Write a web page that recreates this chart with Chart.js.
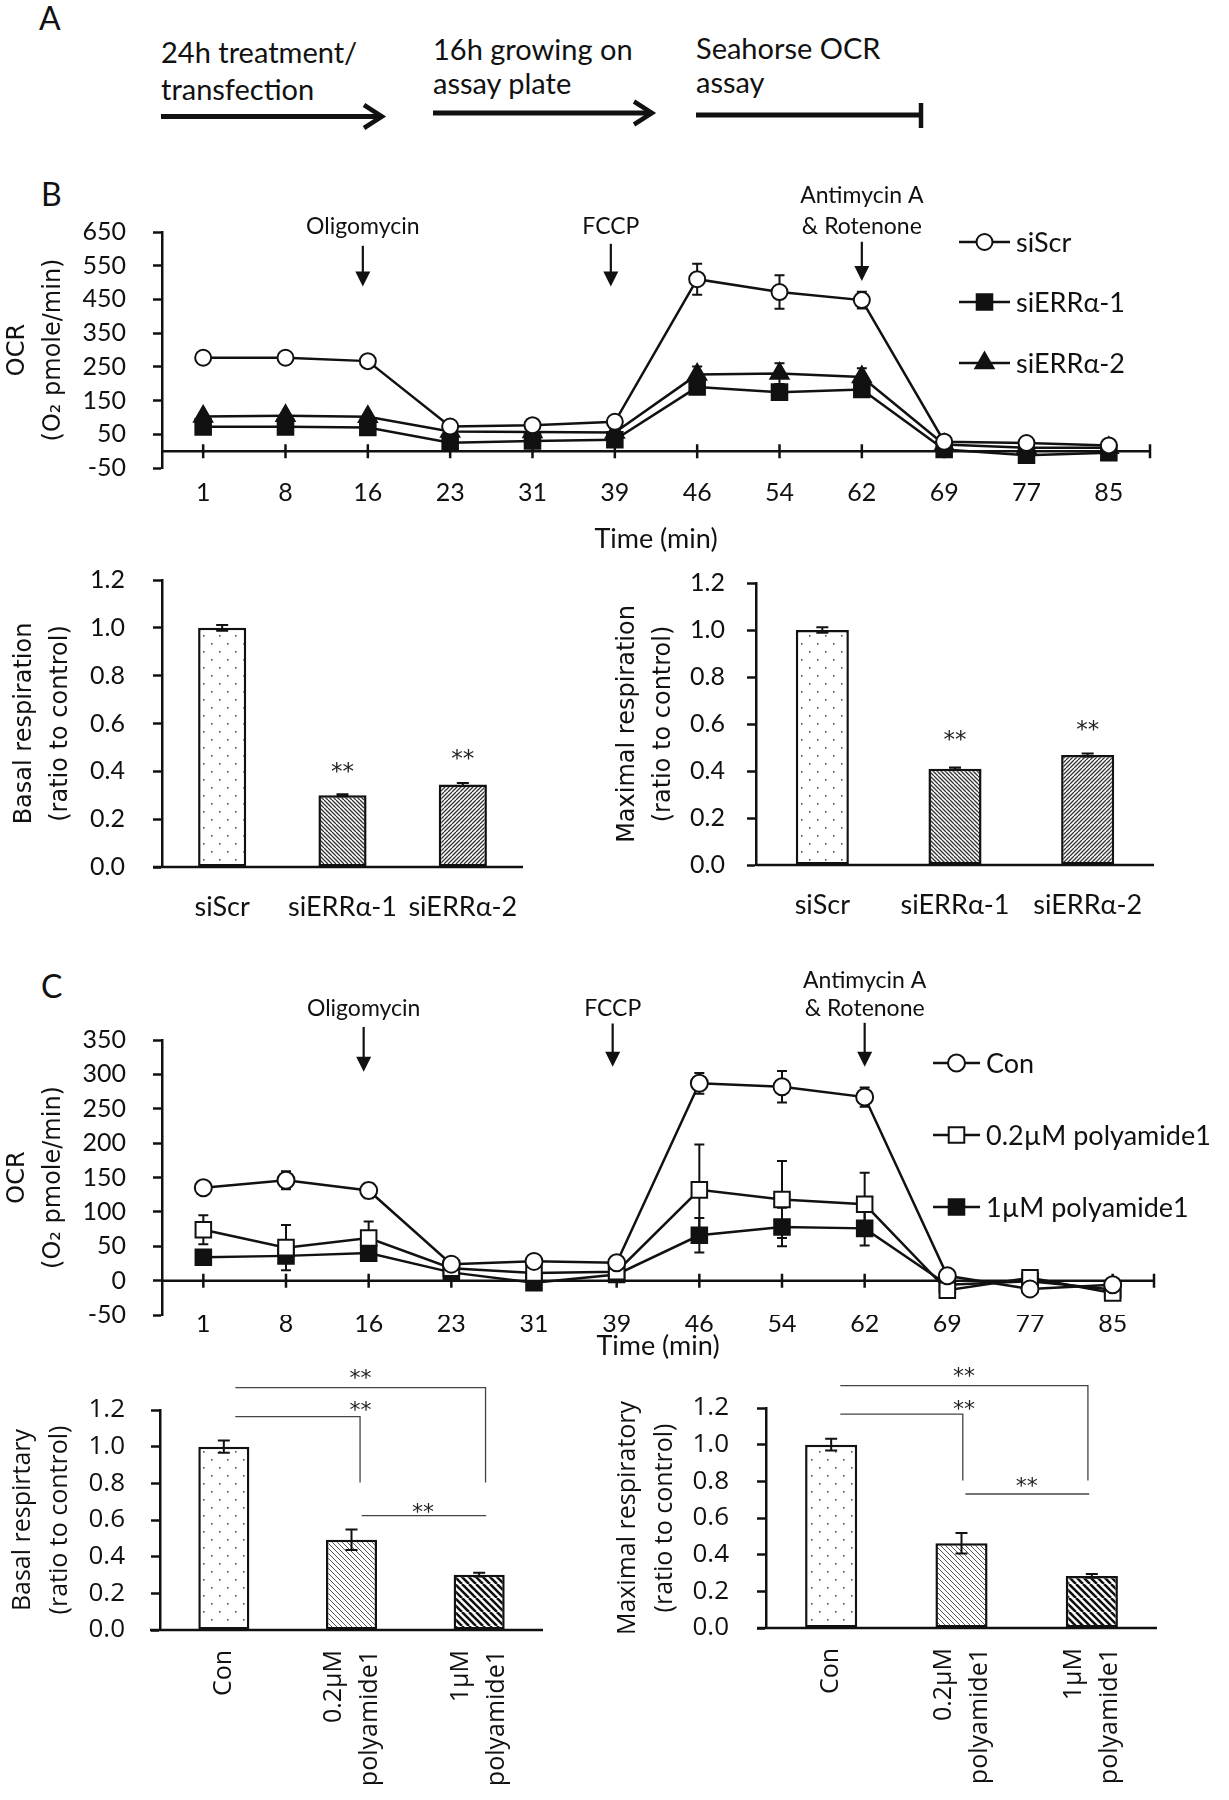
<!DOCTYPE html>
<html><head><meta charset="utf-8">
<script src="https://cdn.jsdelivr.net/npm/chart.js@4.4.1/dist/chart.umd.min.js"></script>
<style>
html,body{margin:0;padding:0;background:#fff}
body{position:relative;width:1229px;height:1800px;overflow:hidden}
canvas{position:absolute}
svg{position:absolute;left:0;top:0}
</style></head><body>
<svg width="1229" height="1800" font-family="Lato, 'DejaVu Sans', sans-serif" fill="#111">
  <text x="39" y="30" font-size="32">A</text>
  <text x="41" y="206" font-size="32">B</text>
  <text x="41" y="998" font-size="32">C</text>
  <text x="161" y="63" font-size="29">24h treatment/</text>
  <text x="161" y="100" font-size="29">transfection</text>
  <text x="433" y="60" font-size="29">16h growing on</text>
  <text x="433" y="94" font-size="29">assay plate</text>
  <text x="696" y="59" font-size="29">Seahorse OCR</text>
  <text x="696" y="93" font-size="29">assay</text>
  <line x1="161" y1="116.5" x2="382" y2="116.5" stroke="#111" stroke-width="5"/>
  <polyline points="364,105 382,116.5 364,128" fill="none" stroke="#111" stroke-width="4.5"/>
  <line x1="433" y1="113" x2="652" y2="113" stroke="#111" stroke-width="5"/>
  <polyline points="634,101.5 652,113 634,124.5" fill="none" stroke="#111" stroke-width="4.5"/>
  <line x1="696" y1="115" x2="921" y2="115" stroke="#111" stroke-width="5"/>
  <line x1="921" y1="103" x2="921" y2="128" stroke="#111" stroke-width="4.5"/>
</svg>
<script>
// ---------------- data ----------------
const timeLabels = ['1','8','16','23','31','39','46','54','62','69','77','85'];

const bSeriesNames = ['siScr','siERRα-1','siERRα-2'];
const bScr     = [277,277,267,73,77,87,510,472,448,28,24,17];
const bScrErr  = [5,5,6,5,5,5,46,50,25,4,5,4];
const bErr1    = [72,72,70,25,30,34,190,175,183,5,-12,-5];
const bErr1Err = [5,5,5,4,4,4,15,13,15,3,3,3];
const bErr2    = [103,105,102,58,57,55,227,230,220,20,10,10];
const bErr2Err = [5,5,5,4,4,4,24,31,26,3,3,3];

const cSeriesNames = ['Con','0.2µM polyamide1','1µM polyamide1'];
const cCon     = [135,146,131,24,28,26,287,282,267,7,-12,-6];
const cConErr  = [4,13,11,4,3,3,15,23,14,3,4,4];
const cLow     = [74,48,62,18,11,13,132,118,111,-14,4,-18];
const cLowErr  = [21,33,24,5,5,5,66,56,46,5,5,5];
const cHigh    = [34,36,40,12,-3,9,66,78,76,-6,-1,-13];
const cHighErr = [8,8,5,4,3,4,25,28,25,4,4,4];

const bBarCats = ['siScr','siERRα-1','siERRα-2'];
const bBasal    = [1.0,0.300,0.345];
const bBasalErr = [0.012,0.004,0.006];
const bMax      = [1.0,0.410,0.468];
const bMaxErr   = [0.012,0.005,0.006];

const cBarCats = [['Con'],['0.2µM','polyamide1'],['1µM','polyamide1']];
const cBasal    = [1.0,0.492,0.302];
const cBasalErr = [0.033,0.056,0.010];
const cMax      = [1.0,0.462,0.284];
const cMaxErr   = [0.032,0.056,0.010];

// ---------------- helpers ----------------
const BLACK = '#111';
const LATO = 'Lato, "DejaVu Sans", sans-serif';
const STARFONT = '"DejaVu Sans", sans-serif';
Chart.defaults.font.family = LATO;
Chart.defaults.color = BLACK;

function mk(left, top, w, h){
  const c = document.createElement('canvas');
  c.width = w; c.height = h;
  c.style.left = left+'px'; c.style.top = top+'px';
  c.style.width = w+'px'; c.style.height = h+'px';
  document.body.appendChild(c);
  return c;
}
const tmpCtx = document.createElement('canvas').getContext('2d');
function dotPattern(){
  const c = document.createElement('canvas'); c.width = 16; c.height = 16;
  const g = c.getContext('2d');
  g.fillStyle = '#fff'; g.fillRect(0,0,16,16);
  g.fillStyle = '#555';
  g.fillRect(3,3,1.6,1.6); g.fillRect(11,11,1.6,1.6);
  return tmpCtx.createPattern(c,'repeat');
}
function hatch(period, lw, color, dir){
  const s = period*2;
  const c = document.createElement('canvas'); c.width = s; c.height = s;
  const g = c.getContext('2d');
  g.fillStyle = '#fff'; g.fillRect(0,0,s,s);
  g.strokeStyle = color; g.lineWidth = lw;
  g.beginPath();
  for (let k=-3;k<=3;k++){
    if (dir === 'back'){ g.moveTo(k*period,0); g.lineTo(k*period+s,s); }
    else { g.moveTo(k*period,s); g.lineTo(k*period+s,0); }
  }
  g.stroke();
  return tmpCtx.createPattern(c,'repeat');
}
function marker(ctx, style, x, y, r){
  ctx.beginPath();
  if (style==='circle'){ ctx.arc(x,y,r,0,Math.PI*2); }
  else if (style==='rect'){ const s=r*Math.SQRT1_2; ctx.rect(x-s,y-s,2*s,2*s); }
  else if (style==='triangle'){
    let a=0; ctx.moveTo(x+Math.sin(a)*r, y-Math.cos(a)*r);
    a+=2*Math.PI/3; ctx.lineTo(x+Math.sin(a)*r, y-Math.cos(a)*r);
    a+=2*Math.PI/3; ctx.lineTo(x+Math.sin(a)*r, y-Math.cos(a)*r);
    ctx.closePath();
  }
}
// error bars
function errPlugin(capHalf, lw, after){
  const draw = (chart)=>{
    const {ctx, scales:{y}} = chart;
    ctx.save(); ctx.strokeStyle = BLACK; ctx.lineWidth = lw;
    chart.data.datasets.forEach((ds,di)=>{
      if(!ds.errorBars) return;
      const meta = chart.getDatasetMeta(di);
      meta.data.forEach((el,i)=>{
        const v = ds.data[i], e = ds.errorBars[i];
        if(!e) return;
        const x = el.x, y1 = y.getPixelForValue(v+e), y2 = y.getPixelForValue(v-e);
        ctx.beginPath();
        ctx.moveTo(x,y1); ctx.lineTo(x,y2);
        ctx.moveTo(x-capHalf,y1); ctx.lineTo(x+capHalf,y1);
        ctx.moveTo(x-capHalf,y2); ctx.lineTo(x+capHalf,y2);
        ctx.stroke();
      });
    });
    ctx.restore();
  };
  return after ? {id:'errA', afterDatasetsDraw:draw} : {id:'errB', beforeDatasetsDraw:draw};
}
// zero / baseline axis line
function zeroLine(ext, tickHalf, lw){
  return {id:'zeroLine', beforeDatasetsDraw(chart){
    const {ctx, chartArea, scales:{x,y}} = chart;
    const py = y.getPixelForValue(0);
    ctx.save(); ctx.strokeStyle = BLACK; ctx.lineWidth = lw;
    ctx.beginPath(); ctx.moveTo(chartArea.left-ext, py); ctx.lineTo(chartArea.right, py);
    if (tickHalf){
      for(let i=0;i<x.ticks.length;i++){
        const px = x.getPixelForTick(i);
        ctx.moveTo(px, py-tickHalf); ctx.lineTo(px, py+tickHalf);
      }
      ctx.moveTo(chartArea.right, py-tickHalf); ctx.lineTo(chartArea.right, py+tickHalf);
    }
    ctx.stroke(); ctx.restore();
  }};
}
// treatment arrows + labels
function annotPlugin(items, font){
  return {id:'annot', afterDraw(chart){
    const {ctx, scales:{x,y}} = chart;
    ctx.save(); ctx.fillStyle = BLACK; ctx.strokeStyle = BLACK;
    ctx.font = font; ctx.textAlign='center'; ctx.textBaseline='middle';
    items.forEach(a=>{
      const px = x.getPixelForValue(a.cat) + (a.dx||0);
      a.label.forEach((t,i)=> ctx.fillText(t, px, y.getPixelForValue(a.labelY[i])));
      const y1 = y.getPixelForValue(a.top), y2 = y.getPixelForValue(a.tip);
      const head = 15;
      ctx.lineWidth = 2.2;
      ctx.beginPath(); ctx.moveTo(px,y1); ctx.lineTo(px,y2-head+1); ctx.stroke();
      ctx.beginPath(); ctx.moveTo(px-7.5,y2-head); ctx.lineTo(px+7.5,y2-head); ctx.lineTo(px,y2); ctx.closePath(); ctx.fill();
    });
    ctx.restore();
  }};
}
// legend drawn with the datasets' own styles
function legendPlugin(cfg){
  return {id:'customLegend', afterDraw(chart){
    const {ctx} = chart;
    ctx.save();
    chart.data.datasets.forEach((ds,i)=>{
      const yy = cfg.ys[i];
      ctx.strokeStyle = BLACK; ctx.lineWidth = 2.5;
      ctx.beginPath(); ctx.moveTo(cfg.x, yy); ctx.lineTo(cfg.x+cfg.len, yy); ctx.stroke();
      ctx.fillStyle = ds.pointBackgroundColor; ctx.lineWidth = ds.pointBorderWidth;
      marker(ctx, ds.pointStyle, cfg.x+cfg.len/2, yy, ds.pointRadius);
      ctx.fill(); ctx.stroke();
      ctx.fillStyle = BLACK; ctx.font = cfg.font; ctx.textAlign='left'; ctx.textBaseline='middle';
      ctx.fillText(ds.label, cfg.textX, yy+1);
    });
    ctx.restore();
  }};
}
// significance stars
function starText(ctx, t, x, y, size){
  ctx.font = size+'px '+STARFONT; ctx.textAlign='center'; ctx.textBaseline='alphabetic';
  ctx.fillText(t, x, y + 0.52*size);
}
function sigPlugin(items, size){
  return {id:'sig', afterDraw(chart){
    const {ctx, scales:{x,y}} = chart;
    ctx.save(); ctx.fillStyle = '#222';
    items.forEach(s=> starText(ctx, s.text, x.getPixelForValue(s.cat), y.getPixelForValue(s.y), size));
    ctx.restore();
  }};
}
function bracketPlugin(items, size){
  return {id:'brackets', afterDraw(chart){
    const {ctx, scales:{x,y}} = chart;
    ctx.save(); ctx.strokeStyle = '#444'; ctx.lineWidth = 1.3; ctx.fillStyle = '#222';
    items.forEach(b=>{
      const x1 = x.getPixelForValue(b.x1), x2 = x.getPixelForValue(b.x2), py = y.getPixelForValue(b.y);
      ctx.beginPath(); ctx.moveTo(x1,py); ctx.lineTo(x2,py);
      if (b.drop != null) ctx.lineTo(x2, y.getPixelForValue(b.drop));
      ctx.stroke();
      starText(ctx, '**', x.getPixelForValue(b.tx), y.getPixelForValue(b.ty), size);
    });
    ctx.restore();
  }};
}
// rotated multi-line category labels
function rotLabelPlugin(labels, font, gap, lineGap){
  return {id:'rotLabels', afterDraw(chart){
    const {ctx, chartArea, scales:{x}} = chart;
    ctx.save(); ctx.fillStyle = BLACK; ctx.font = font; ctx.textAlign='right'; ctx.textBaseline='middle';
    labels.forEach((lines,i)=>{
      const cx = x.getPixelForValue(i);
      lines.forEach((t,j)=>{
        ctx.save();
        ctx.translate(cx + (j-(lines.length-1)/2)*lineGap, chartArea.bottom+gap);
        ctx.rotate(-Math.PI/2); ctx.fillText(t,0,0); ctx.restore();
      });
    });
    ctx.restore();
  }};
}
function fixY(w){
  return s=>{ s.width = w; s.paddingTop = 8; s.paddingBottom = 8; };
}

// ---------------- line charts ----------------
function buildLine(canvas, o){
  return new Chart(canvas, {
    type:'line',
    data:{labels: timeLabels, datasets: o.datasets},
    options:{
      responsive:false, animation:false, devicePixelRatio:1,
      layout:{padding:o.padding},
      plugins:{legend:{display:false}, tooltip:{enabled:false}},
      scales:{
        x:{type:'category', offset:true,
           border:{display:false}, grid:{display:false, drawTicks:false},
           ticks:{padding:o.xPad, font:{size:25, lineHeight:o.xLH}, color:BLACK, maxRotation:0, autoSkip:false},
           title:{display:true, text:'Time (min)', font:{size:27}, padding:0, color:BLACK},
           afterFit:s=>{s.height=o.xH;}},
        y:{min:o.yMin, max:o.yMax,
           ticks:{stepSize:o.step, padding:27, font:{size:25}, color:BLACK},
           border:{display:true, color:BLACK, width:2.5},
           grid:{drawOnChartArea:false, drawTicks:true, tickLength:9, tickWidth:2.5, tickColor:BLACK},
           title:{display:true, text:['OCR','(O₂ pmole/min)'], color:BLACK,
                  font:{family:'"DejaVu Sans", sans-serif', size:24, lineHeight:'36px'}, padding:{top:0,bottom:0}},
           afterFit:fixY(o.yW)}
      }
    },
    plugins:[errPlugin(5,2,false), zeroLine(0,7,2.5), annotPlugin(o.annots,'23px '+LATO), legendPlugin(o.legend)]
  });
}
function ds(label, data, errs, style, r, bg){
  return {label, data, errorBars:errs, borderColor:BLACK, borderWidth:2.5, tension:0, fill:false,
          pointStyle:style, pointRadius:r, pointHoverRadius:r, pointBackgroundColor:bg,
          pointBorderColor:BLACK, pointBorderWidth:2};
}

buildLine(mk(0,160,1229,400), {
  padding:{left:0, top:72, right:79, bottom:5}, yW:162, xH:87, xPad:10, xLH:'30px',
  yMin:-50, yMax:650, step:100,
  datasets:[
    ds(bSeriesNames[0], bScr, bScrErr, 'circle', 8, '#fff'),
    ds(bSeriesNames[1], bErr1, bErr1Err, 'rect', 11, BLACK),
    ds(bSeriesNames[2], bErr2, bErr2Err, 'triangle', 10.5, BLACK)
  ],
  annots:[
    {cat:2, dx:-5, label:['Oligomycin'], labelY:[666], top:609, tip:488},
    {cat:5, dx:-4, label:['FCCP'], labelY:[666], top:615, tip:488},
    {cat:8, dx:0, label:['Antimycin A','& Rotenone'], labelY:[758,666], top:621, tip:505}
  ],
  legend:{x:959, len:51, textX:1016, ys:[82,142,203], font:'27px '+LATO}
});

buildLine(mk(0,940,1229,425), {
  padding:{left:0, top:100, right:75, bottom:3}, yW:162, xH:47, xPad:0, xLH:'18px',
  yMin:-50, yMax:350, step:50,
  datasets:[
    ds(cSeriesNames[0], cCon, cConErr, 'circle', 8.5, '#fff'),
    ds(cSeriesNames[1], cLow, cLowErr, 'rect', 11, '#fff'),
    ds(cSeriesNames[2], cHigh, cHighErr, 'rect', 11, BLACK)
  ],
  annots:[
    {cat:2, dx:-5, label:['Oligomycin'], labelY:[396], top:369, tip:304},
    {cat:5, dx:-4, label:['FCCP'], labelY:[396], top:374, tip:311},
    {cat:8, dx:0, label:['Antimycin A','& Rotenone'], labelY:[436,396], top:375, tip:311}
  ],
  legend:{x:933, len:47, textX:986, ys:[123,195,267], font:'27px '+LATO}
});

// ---------------- bar charts ----------------
function buildBar(canvas, o){
  return new Chart(canvas, {
    type:'bar',
    data:{labels:o.labels, datasets:[{data:o.values, errorBars:o.errs, backgroundColor:o.fills,
          borderColor:BLACK, borderWidth:2.5, borderSkipped:false, barPercentage:0.4, categoryPercentage:1}]},
    options:{
      responsive:false, animation:false, devicePixelRatio:1,
      layout:{padding:o.padding},
      plugins:{legend:{display:false}, tooltip:{enabled:false}},
      scales:{
        x:{offset:true, border:{display:false}, grid:{display:false, drawTicks:false},
           ticks:{display:o.showX, padding:24, font:{size:27}, color:BLACK, maxRotation:0, autoSkip:false},
           afterFit:s=>{s.height=o.xH;}},
        y:{min:0, max:1.2,
           ticks:{stepSize:0.2, padding:o.yPad, font:o.tickFont, color:BLACK, callback:v=>Number(v).toFixed(1)},
           border:{display:true, color:BLACK, width:2.5},
           grid:{drawOnChartArea:false, drawTicks:true, tickLength:9, tickWidth:2.5, tickColor:BLACK},
           title:{display:true, text:o.title, color:BLACK, font:o.titleFont, padding:{top:o.titlePad,bottom:0}},
           afterFit:fixY(o.yW)}
      }
    },
    plugins:[zeroLine(o.ext,0,2.5), errPlugin(o.cap,2,true)].concat(o.extra)
  });
}
const dots = dotPattern();
const bFills = [dots, hatch(4,1.3,'#333','back'), hatch(4,1.3,'#333','fwd')];
const cFills = [dots, hatch(5,1.0,'#555','back'), hatch(7,2.6,'#111','back')];
const bTitleFont = {family:'"DejaVu Sans", sans-serif', size:24, lineHeight:'36px'};
const cTitleFont = {family:'"Open Sans", sans-serif', size:25, lineHeight:'37px'};

buildBar(mk(0,560,580,390), {
  labels:bBarCats, values:bBasal, errs:bBasalErr, fills:bFills, showX:true,
  padding:{left:0, top:20, right:57, bottom:0}, yW:162, xH:83, yPad:28, ext:9, cap:6,
  tickFont:{size:25}, title:['Basal respiration','(ratio to control)'], titleFont:bTitleFont, titlePad:7,
  extra:[sigPlugin([{cat:1,y:0.42,text:'**'},{cat:2,y:0.473,text:'**'}], 23)]
});
buildBar(mk(590,560,639,390), {
  labels:bBarCats, values:bMax, errs:bMaxErr, fills:bFills, showX:true,
  padding:{left:0, top:23, right:75, bottom:0}, yW:166, xH:85, yPad:22, ext:0, cap:6,
  tickFont:{size:25}, title:['Maximal respiration','(ratio to control)'], titleFont:bTitleFont, titlePad:20,
  extra:[sigPlugin([{cat:1,y:0.553,text:'**'},{cat:2,y:0.596,text:'**'}], 23)]
});
buildBar(mk(0,1360,600,440), {
  labels:cBarCats.map(l=>l.join(' ')), values:cBasal, errs:cBasalErr, fills:cFills, showX:false,
  padding:{left:0, top:50, right:57, bottom:0}, yW:160, xH:170, yPad:26, ext:10, cap:6,
  tickFont:{family:'"Open Sans", sans-serif', size:26}, title:['Basal respirtary','(ratio to control)'], titleFont:cTitleFont, titlePad:4.5,
  extra:[
    bracketPlugin([
      {x1:0.09, x2:2.05, y:1.322, drop:0.804, tx:1.07, ty:1.40},
      {x1:0.09, x2:1.067, y:1.164, drop:0.804, tx:1.07, ty:1.222},
      {x1:1.08, x2:2.055, y:0.624, drop:null, tx:1.56, ty:0.669}
    ], 22),
    rotLabelPlugin(cBarCats, '25px "Open Sans", sans-serif', 20, 36)
  ]
});
buildBar(mk(600,1360,629,440), {
  labels:cBarCats.map(l=>l.join(' ')), values:cMax, errs:cMaxErr, fills:cFills, showX:false,
  padding:{left:0, top:48, right:72, bottom:0}, yW:166, xH:172, yPad:28, ext:9, cap:6,
  tickFont:{family:'"Open Sans", sans-serif', size:26}, title:['Maximal respiratory','(ratio to control)'], titleFont:cTitleFont, titlePad:9.5,
  extra:[
    bracketPlugin([
      {x1:0.07, x2:1.97, y:1.322, drop:0.804, tx:1.02, ty:1.397},
      {x1:0.07, x2:1.01, y:1.167, drop:0.804, tx:1.02, ty:1.217},
      {x1:1.03, x2:1.98, y:0.731, drop:null, tx:1.5, ty:0.798}
    ], 22),
    rotLabelPlugin(cBarCats, '25px "Open Sans", sans-serif', 20, 36)
  ]
});
</script>
</body></html>
